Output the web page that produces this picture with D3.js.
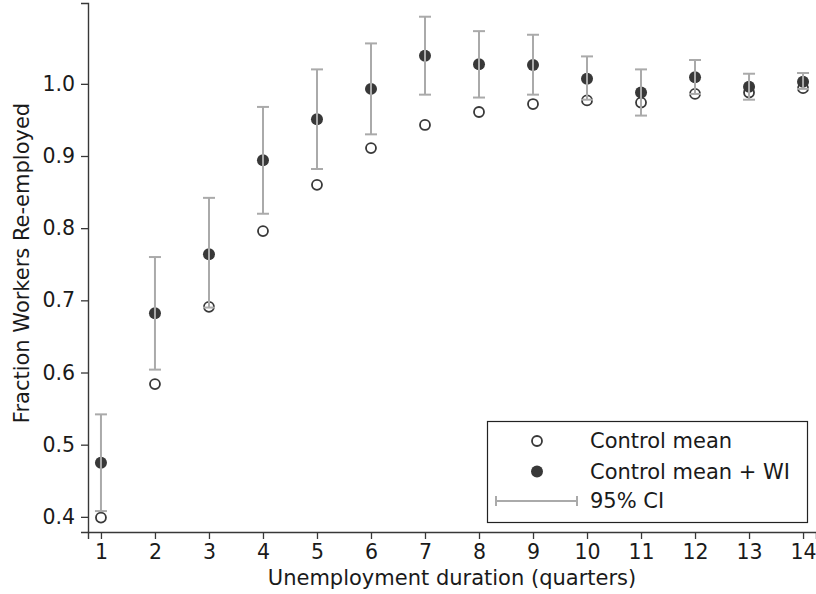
<!DOCTYPE html>
<html>
<head>
<meta charset="utf-8">
<script src="https://cdn.jsdelivr.net/npm/d3@7"></script>
<style>
  body { margin: 0; background: #fff; }
  svg { display: block; font-family: 'DejaVu Sans', sans-serif; }
</style>
</head>
<body>
<div id="chart"></div>
<script>
// quarters of unemployment
const quarters = [1, 2, 3, 4, 5, 6, 7, 8, 9, 10, 11, 12, 13, 14]
// control group mean
const controlMean = [0.399, 0.584, 0.691, 0.796, 0.860, 0.911, 0.943, 0.961, 0.972, 0.977, 0.974, 0.986, 0.988, 0.994]
// control mean + work incentive effect
const controlWI = [0.475, 0.682, 0.764, 0.894, 0.951, 0.993, 1.039, 1.027, 1.026, 1.007, 0.988, 1.009, 0.996, 1.003]
// 95% CI bounds
const ciLow = [0.408, 0.604, 0.690, 0.820, 0.882, 0.930, 0.985, 0.981, 0.985, 0.978, 0.956, 0.986, 0.978, 0.993]
const ciHigh = [0.542, 0.760, 0.842, 0.968, 1.020, 1.056, 1.093, 1.073, 1.068, 1.038, 1.020, 1.033, 1.014, 1.015]
const yTicks = [0.4, 0.5, 0.6, 0.7, 0.8, 0.9, 1.0]
const legendLabels = ['Control mean', 'Control mean + WI', '95% CI']

const width = 816
const height = 594
const dark = '#383838'
const grey = '#aaaaaa'

const svg = d3.select('#chart')
  .append('svg')
  .attr('width', width)
  .attr('height', height)

const x = d3.scaleLinear()
  .domain([0.76, 14.24])
  .range([88, 816])

const y = d3.scaleLinear()
  .domain([0.379, 1.112])
  .range([532, 3])

// axes
const xAxis = svg.append('g')
  .attr('transform', `translate(0,${y.range()[0]})`)
  .call(d3.axisBottom(x).tickValues(quarters).tickFormat(d3.format('d')).tickSizeOuter(0).tickSize(7).tickPadding(5))

const yAxis = svg.append('g')
  .attr('transform', `translate(${x.range()[0]},0)`)
  .call(d3.axisLeft(y).tickValues(yTicks).tickFormat(d3.format('.1f')).tickSizeOuter(0).tickSize(7).tickPadding(6))

;[xAxis, yAxis].forEach(g => {
  g.select('.domain').attr('stroke', dark).attr('stroke-width', 1.4)
  g.selectAll('.tick line').attr('stroke', dark).attr('stroke-width', 1.3)
  g.selectAll('.tick text')
    .attr('fill', '#1a1a1a')
    .style('font-size', '20.5px')
    .style('font-family', "'DejaVu Sans', sans-serif")
})

// axis titles
svg.append('text')
  .attr('x', 452)
  .attr('y', 585)
  .attr('text-anchor', 'middle')
  .attr('fill', '#1a1a1a')
  .style('font-size', '21px')
  .text('Unemployment duration (quarters)')

svg.append('text')
  .attr('transform', `translate(29,${263}) rotate(-90)`)
  .attr('text-anchor', 'middle')
  .attr('fill', '#1a1a1a')
  .style('font-size', '21px')
  .text('Fraction Workers Re-employed')

const plot = svg.append('g')

// control mean (hollow)
plot.selectAll('circle.ctrl')
  .data(quarters)
  .join('circle')
  .attr('class', 'ctrl')
  .attr('cx', d => x(d))
  .attr('cy', (d, i) => y(controlMean[i]))
  .attr('r', 5)
  .attr('fill', '#fff')
  .attr('stroke', dark)
  .attr('stroke-width', 1.8)

// control mean + WI (filled)
plot.selectAll('circle.wi')
  .data(quarters)
  .join('circle')
  .attr('class', 'wi')
  .attr('cx', d => x(d))
  .attr('cy', (d, i) => y(controlWI[i]))
  .attr('r', 6)
  .attr('fill', dark)

// error bars on top
const bars = plot.selectAll('g.ci')
  .data(quarters)
  .join('g')
  .attr('class', 'ci')
  .attr('stroke', grey)
  .attr('stroke-width', 2)

bars.append('line')
  .attr('x1', d => x(d)).attr('x2', d => x(d))
  .attr('y1', (d, i) => y(ciLow[i]))
  .attr('y2', (d, i) => y(ciHigh[i]))

bars.append('line')
  .attr('x1', d => x(d) - 6).attr('x2', d => x(d) + 6)
  .attr('y1', (d, i) => y(ciLow[i]))
  .attr('y2', (d, i) => y(ciLow[i]))

bars.append('line')
  .attr('x1', d => x(d) - 6).attr('x2', d => x(d) + 6)
  .attr('y1', (d, i) => y(ciHigh[i]))
  .attr('y2', (d, i) => y(ciHigh[i]))

// legend
const legend = svg.append('g')

legend.append('rect')
  .attr('x', 487.5)
  .attr('y', 421.5)
  .attr('width', 320)
  .attr('height', 101)
  .attr('fill', '#fff')
  .attr('stroke', '#222')
  .attr('stroke-width', 1.2)

const rowY = [441, 471.5, 501]

legend.append('circle')
  .attr('cx', 537).attr('cy', rowY[0]).attr('r', 5)
  .attr('fill', '#fff').attr('stroke', dark).attr('stroke-width', 1.8)

legend.append('circle')
  .attr('cx', 537).attr('cy', rowY[1]).attr('r', 6)
  .attr('fill', dark)

const ciKey = legend.append('g').attr('stroke', grey).attr('stroke-width', 2)
ciKey.append('line').attr('x1', 496).attr('x2', 577).attr('y1', rowY[2]).attr('y2', rowY[2])
ciKey.append('line').attr('x1', 496).attr('x2', 496).attr('y1', rowY[2] - 5).attr('y2', rowY[2] + 5)
ciKey.append('line').attr('x1', 577).attr('x2', 577).attr('y1', rowY[2] - 5).attr('y2', rowY[2] + 5)

legend.selectAll('text')
  .data(legendLabels)
  .join('text')
  .attr('x', 590)
  .attr('y', (d, i) => rowY[i])
  .attr('dy', '0.35em')
  .attr('fill', '#1a1a1a')
  .style('font-size', '21px')
  .text(d => d)
</script>
</body>
</html>
